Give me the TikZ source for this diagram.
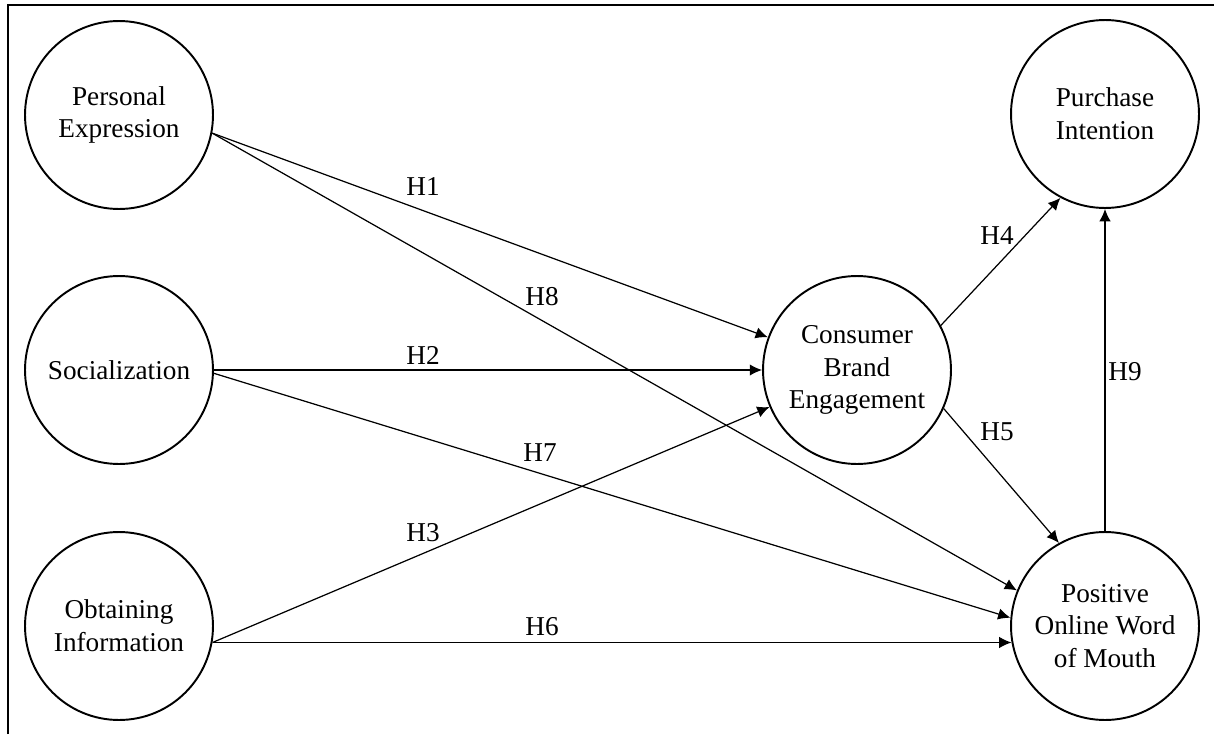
\documentclass[tikz,border=0pt]{standalone}
\usepackage{fontspec}
\setmainfont{Liberation Serif}
\usetikzlibrary{arrows.meta}

\begin{document}
\begin{tikzpicture}[x=0.02cm,y=-0.02cm,
                    construct/.style={circle,draw,line width=1.1pt,minimum size=3.76cm,inner sep=0pt,
                                      align=center,font=\fontsize{15.5}{18.6}\selectfont},
                    link/.style={-{Latex[length=7pt,width=6.5pt]},line width=0.7pt},
                    hyp/.style={font=\fontsize{15.5}{18.6}\selectfont}]
                      \useasboundingbox (0,0) rectangle (1214,734);
                      \draw [line width=1.2pt] (8,734)--(8,5)--(1214,5);
                      % constructs
                      \node[construct] (pe) at (119,115) {Personal\\Expression};
                      \node[construct] (soc) at (119,370) {Socialization};
                      \node[construct] (oi) at (119,626) {Obtaining\\Information};
                      \node[construct] (cbe) at (857,370) {Consumer\\Brand\\Engagement};
                      \node[construct] (pi) at (1105,114) {Purchase\\Intention};
                      \node[construct] (powm) at (1105,626) {Positive\\Online Word\\of Mouth};
                      % hypotheses
                      \draw[link] (pe.-11) -- (cbe);
                      \draw[link] (pe.-11) -- (powm.158);
                      \draw[link] (soc.east) -- (cbe.west);
                      \draw[link] (soc.-2) -- (powm.175);
                      \draw[link] (oi.-10) -- (cbe);
                      \draw[link] (oi.-10) -- (powm.190);
                      \draw[link] (cbe.28) -- (pi.242);
                      \draw[link] (cbe.-24) -- (powm.119);
                      \draw[link] (powm.north) -- (pi.south);
                      \node[hyp] (h1) at (423,187) {H1};
                      \node[hyp] (h2) at (423,355) {H2};
                      \node[hyp] (h3) at (423,533) {H3};
                      \node[hyp] (h4) at (997,236) {H4};
                      \node[hyp] (h5) at (997,432) {H5};
                      \node[hyp] (h6) at (542,627) {H6};
                      \node[hyp] (h7) at (540,453) {H7};
                      \node[hyp] (h8) at (542,297) {H8};
                      \node[hyp] (h9) at (1125,372) {H9};
                  \end{tikzpicture}
\end{document}
